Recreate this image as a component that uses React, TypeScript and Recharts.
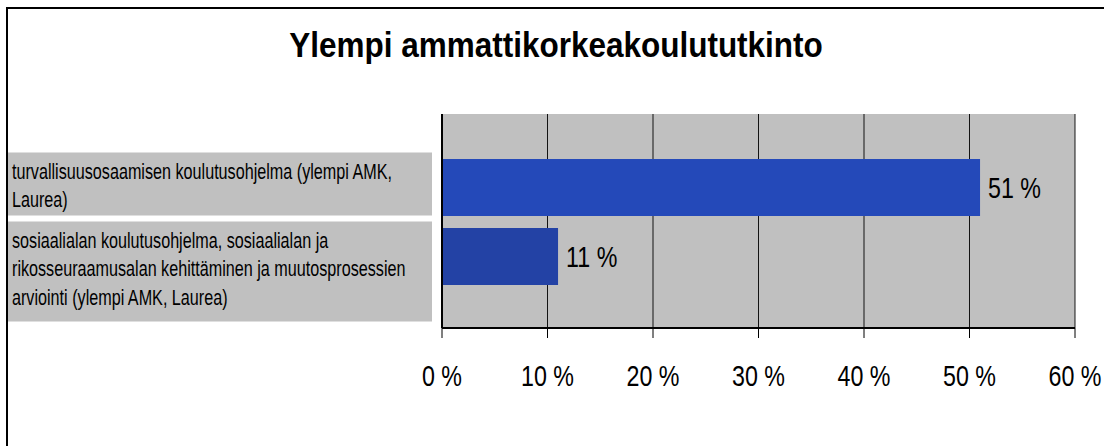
import React from 'react';
import { BarChart, Bar, XAxis, YAxis, CartesianGrid, LabelList, Cell } from 'recharts';

const categories = [
  'turvallisuusosaamisen koulutusohjelma (ylempi AMK, Laurea)',
  'sosiaalialan koulutusohjelma, sosiaalialan ja rikosseuraamusalan kehittäminen ja muutosprosessien arviointi (ylempi AMK, Laurea)',
];
const categoryLines = [
  ['turvallisuusosaamisen koulutusohjelma (ylempi AMK,', 'Laurea)'],
  ['sosiaalialan koulutusohjelma, sosiaalialan ja', 'rikosseuraamusalan kehittäminen ja muutosprosessien', 'arviointi (ylempi AMK, Laurea)'],
];
const values = [51, 11];
const barColors = ['#2449B9', '#2342A5'];
const xTicks = [0, 10, 20, 30, 40, 50, 60];
const title = 'Ylempi ammattikorkeakoulututkinto';

const data = categories.map((name, i) => ({ name, value: values[i] }));

const FONT = "'Liberation Sans', Arial, sans-serif";
const NUM_SIZE = 30;
const NUM_SCALE = 0.775;

const CategoryTick = (props: any) => {
  const { y, payload, index } = props;
  const i = typeof payload?.index === 'number' ? payload.index : index;
  const lines = categoryLines[i] || [String(payload.value)];
  const h = 37 * lines.length - 11;
  const top = y - 35;
  return (
    <g>
      <rect x={8} y={top} width={424} height={h} fill="#C0C0C0" />
      {lines.map((l, k) => (
        <text
          key={k}
          transform={`translate(12,${top + 26 + k * 28.7}) scale(0.735,1)`}
          x={0}
          y={0}
          fontSize={22}
          fontFamily={FONT}
          fill="#000"
        >
          {l}
        </text>
      ))}
    </g>
  );
};

const XTick = (props: any) => {
  const { x, y, payload } = props;
  return (
    <text
      transform={`translate(${x},${y}) scale(${NUM_SCALE},1)`}
      x={0}
      y={0}
      dy="0.71em"
      textAnchor="middle"
      fontSize={NUM_SIZE}
      fontFamily={FONT}
      fill="#000"
    >
      {`${payload.value} %`}
    </text>
  );
};

const ValueLabel = (props: any) => {
  const { x, y, width, height, value } = props;
  const tx = Number(x) + Number(width) + 8;
  const ty = Number(y) + Number(height) / 2;
  return (
    <text
      transform={`translate(${tx},${ty}) scale(${NUM_SCALE},1)`}
      x={0}
      y={0}
      dy="0.36em"
      textAnchor="start"
      fontSize={NUM_SIZE}
      fontFamily={FONT}
      fill="#000"
    >
      {`${value} %`}
    </text>
  );
};

export default function App() {
  return (
    <div style={{ position: 'absolute', left: 0, top: 0, width: 1104, height: 446, overflow: 'hidden', background: '#fff' }}>
      <div style={{ position: 'absolute', left: 6, top: 7, width: 1200, height: 600, border: '2px solid #000', boxSizing: 'border-box' }} />
      <div style={{ position: 'absolute', left: 0, top: 0 }}>
        <BarChart
          width={1104}
          height={446}
          data={data}
          layout="vertical"
          margin={{ top: 114, right: 29, bottom: 58, left: 0 }}
        >
          <CartesianGrid horizontal={false} vertical={true} stroke="#000" strokeOpacity={0.9} fill="#C0C0C0" fillOpacity={1} />
          <XAxis
            type="number"
            domain={[0, 60]}
            ticks={xTicks}
            interval={0}
            height={60}
            axisLine={{ stroke: '#000', strokeWidth: 2 }}
            tickLine={{ stroke: '#000', strokeWidth: 1 }}
            tickSize={10}
            tickMargin={27}
            tick={<XTick />}
          />
          <YAxis
            type="category"
            dataKey="name"
            width={442}
            padding={{ top: 39, bottom: 37 }}
            axisLine={{ stroke: '#000', strokeWidth: 2 }}
            tickLine={false}
            tick={<CategoryTick />}
            interval={0}
          />
          <Bar dataKey="value" barSize={57} isAnimationActive={false}>
            {data.map((d, i) => (
              <Cell key={i} fill={barColors[i]} />
            ))}
            <LabelList dataKey="value" content={<ValueLabel />} />
          </Bar>
        </BarChart>
      </div>
      <svg width={1104} height={446} style={{ position: 'absolute', left: 0, top: 0, pointerEvents: 'none' }}>
        <text
          transform="translate(556,57) scale(0.9,1)"
          x={0}
          y={0}
          textAnchor="middle"
          fontSize={35}
          fontWeight="bold"
          fontFamily={FONT}
          fill="#000"
        >
          {title}
        </text>
      </svg>
    </div>
  );
}
